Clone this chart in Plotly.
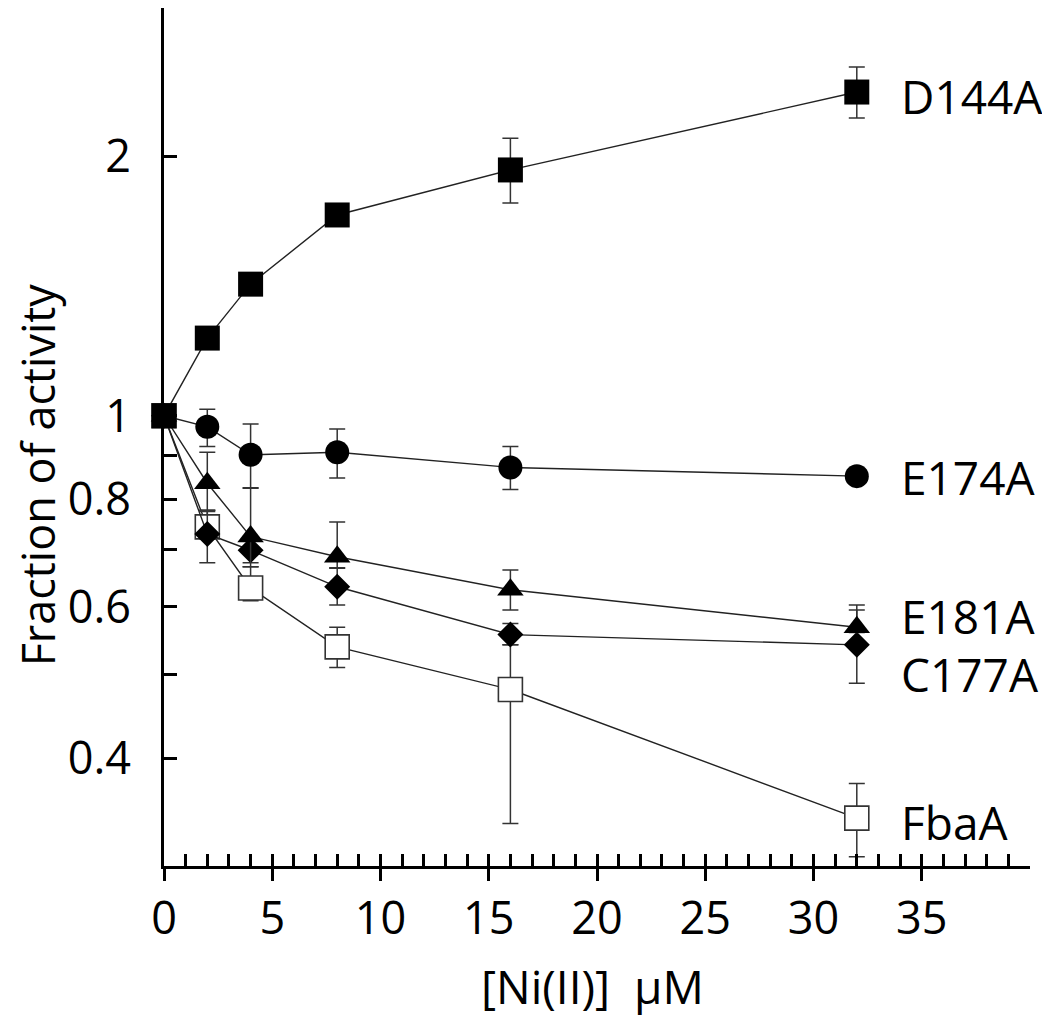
import plotly.graph_objects as go
import math

conc = [0, 2, 4, 8, 16, 32]

# values (fraction of activity)
d144a = [1.0, 1.231, 1.422, 1.711, 1.930, 2.377]
d144a_hi = [1.0, 1.231, 1.422, 1.711, 2.101, 2.542]
d144a_lo = [1.0, 1.231, 1.422, 1.711, 1.767, 2.218]

e174a = [1.0, 0.971, 0.901, 0.907, 0.871, 0.851]
e174a_hi = [1.0, 1.018, 0.978, 0.965, 0.921, 0.860]
e174a_lo = [1.0, 0.921, 0.824, 0.847, 0.821, 0.842]

e181a = [1.0, 0.835, 0.724, 0.686, 0.628, 0.568]
e181a_hi = [1.0, 0.907, 0.825, 0.753, 0.662, 0.603]
e181a_lo = [1.0, 0.777, 0.668, 0.666, 0.595, 0.560]

c177a = [1.0, 0.729, 0.698, 0.633, 0.557, 0.542]
c177a_hi = [1.0, 0.774, 0.720, 0.665, 0.574, 0.595]
c177a_lo = [1.0, 0.675, 0.675, 0.603, 0.542, 0.489]

fbaa = [1.0, 0.743, 0.631, 0.539, 0.481, 0.341]
fbaa_hi = [1.0, 0.777, 0.668, 0.568, 0.542, 0.374]
fbaa_lo = [1.0, 0.720, 0.610, 0.510, 0.336, 0.3075]

series_names = ["FbaA", "C177A", "E181A", "E174A", "D144A"]
label_y = {"D144A": 2.35, "E174A": 0.849, "E181A": 0.586, "C177A": 0.501, "FbaA": 0.3375}

y_tickvals = [0.4, 0.5, 0.6, 0.7, 0.8, 0.9, 1, 2, 2.97]
y_ticktext = ["0.4", "", "0.6", "", "0.8", "", "1", "2", ""]
x_minor_vals = list(range(0, 41))
x_major_vals = [0, 5, 10, 15, 20, 25, 30, 35]
x_ticktext = [str(v) if (v % 5 == 0 and v <= 35) else "" for v in x_minor_vals]

FONT = "Open Sans"
LINE = "#222222"

styles = {
    "FbaA": dict(symbol="square", size=24, color="white", lc="#333333", lw=1.6),
    "C177A": dict(symbol="diamond", size=20, color="black", lc="black", lw=0),
    "E181A": dict(symbol="triangle-up", size=23, color="black", lc="black", lw=0),
    "E174A": dict(symbol="circle", size=24, color="black", lc="black", lw=0),
    "D144A": dict(symbol="square", size=25, color="black", lc="black", lw=0),
}
data = {
    "FbaA": (fbaa, fbaa_hi, fbaa_lo),
    "C177A": (c177a, c177a_hi, c177a_lo),
    "E181A": (e181a, e181a_hi, e181a_lo),
    "E174A": (e174a, e174a_hi, e174a_lo),
    "D144A": (d144a, d144a_hi, d144a_lo),
}

fig = go.Figure()
for name in series_names:
    y, hi, lo = data[name]
    st = styles[name]
    fig.add_trace(go.Scatter(
        x=conc, y=y, mode="lines+markers", name=name,
        line=dict(color=LINE, width=1.4),
        marker=dict(symbol=st["symbol"], size=st["size"], color=st["color"],
                    line=dict(color=st["lc"], width=st["lw"])),
        error_y=dict(type="data", symmetric=False,
                     array=[h - v for h, v in zip(hi, y)],
                     arrayminus=[v - l for l, v in zip(lo, y)],
                     color="#333333", thickness=1.5, width=8),
        cliponaxis=False, showlegend=False,
    ))

# major-tick overlay axis (ticks crossing below the axis line)
fig.add_trace(go.Scatter(x=[0, 40], y=[1, 1], xaxis="x2", mode="markers",
                         marker=dict(opacity=0), showlegend=False, hoverinfo="skip"))

for name in series_names:
    fig.add_annotation(x=34.0, y=math.log10(label_y[name]), xref="x", yref="y",
                       text=name, showarrow=False, xanchor="left", yanchor="middle",
                       font=dict(family=FONT, size=46, color="black"), borderpad=0)

fig.add_annotation(x=-0.1467, y=0.4564, xref="paper", yref="paper",
                   text="Fraction of activity", textangle=-90, showarrow=False,
                   xanchor="center", yanchor="middle", borderpad=0,
                   font=dict(family=FONT, size=45, color="black"))
fig.add_annotation(x=0.495, y=-0.14, xref="paper", yref="paper",
                   text="[Ni(II)]\u00a0\u00a0µM", showarrow=False,
                   xanchor="center", yanchor="middle",
                   font=dict(family=FONT, size=46, color="black"))

y_bottom = math.log10(0.3)
y_top = y_bottom + 858 / 861

fig.update_layout(
    width=1042, height=1008,
    margin=dict(l=156, r=20, t=0, b=150),
    plot_bgcolor="white", paper_bgcolor="white",
    font=dict(family=FONT, size=45, color="black"),
    xaxis=dict(range=[0, 40], tickvals=x_minor_vals, ticktext=x_ticktext,
               ticks="inside", ticklen=12, tickwidth=2.5, tickcolor="black",
               showline=True, linewidth=3, linecolor="black", showgrid=False,
               zeroline=False, automargin=False,
               tickfont=dict(family=FONT, size=45), ticklabelstandoff=11),
    xaxis2=dict(range=[0, 40], overlaying="x", anchor="y", side="bottom",
                tickvals=x_major_vals, ticks="outside", ticklen=14, tickwidth=3,
                tickcolor="black", showticklabels=False, showline=False,
                showgrid=False, zeroline=False, automargin=False),
    yaxis=dict(type="log", range=[y_bottom, y_top],
               tickvals=y_tickvals, ticktext=y_ticktext, ticks="inside",
               ticklen=13, tickwidth=3, tickcolor="black", showline=True,
               linewidth=3, linecolor="black", showgrid=False, zeroline=False,
               automargin=False,
               tickfont=dict(family=FONT, size=45), ticklabelstandoff=21),
)

fig.write_html("out.html")
